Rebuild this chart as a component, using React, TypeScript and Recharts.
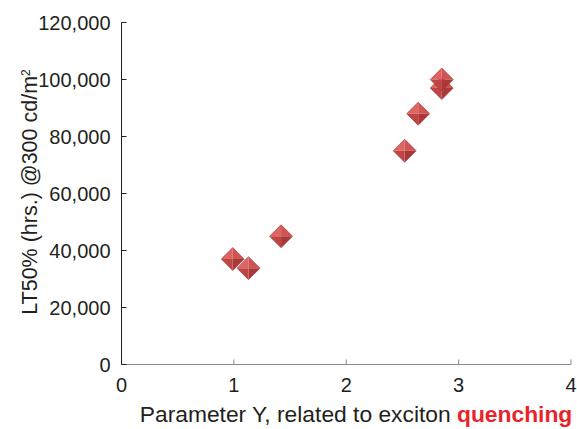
import { ScatterChart, Scatter, XAxis, YAxis } from "recharts";

const paramY = [0.99, 1.13, 1.42, 2.52, 2.64, 2.85, 2.85];
const lt50 = [37000, 33800, 45000, 75000, 88000, 97000, 100000];
const xTicks = [0, 1, 2, 3, 4];
const yTicks = [0, 20000, 40000, 60000, 80000, 100000, 120000];

const points = paramY.map((x, i) => ({ x, y: lt50[i] }));

const FONT = "Liberation Sans, Arial, sans-serif";

const Diamond = (props: any) => {
  const { cx, cy } = props;
  if (cx == null || cy == null) return null;
  const r = 11.5;
  const t = `${cx},${cy - r}`;
  const rr = `${cx + r},${cy}`;
  const b = `${cx},${cy + r}`;
  const l = `${cx - r},${cy}`;
  const c = `${cx},${cy}`;
  return (
    <g>
      <polygon points={`${l} ${t} ${c}`} fill="#df6464" />
      <polygon points={`${t} ${rr} ${c}`} fill="#d15454" />
      <polygon points={`${rr} ${b} ${c}`} fill="#ab3838" />
      <polygon points={`${b} ${l} ${c}`} fill="#bf4545" />
      <polygon
        points={`${l} ${t} ${rr} ${b}`}
        fill="none"
        stroke="#9c3030"
        strokeWidth={0.6}
      />
    </g>
  );
};

const XLabel = (props: any) => {
  const { viewBox } = props;
  return (
    <text
      x={356}
      y={viewBox.y + 57.5}
      textAnchor="middle"
      fontSize={22.8}
      fill="#231f20"
      fontFamily={FONT}
    >
      Parameter Y, related to exciton{" "}
      <tspan fill="#e8242a" fontWeight="bold">
        quenching
      </tspan>
    </text>
  );
};

const YLabel = () => (
  <text
    x={0}
    y={0}
    transform="translate(37,192) rotate(-90)"
    textAnchor="middle"
    fontSize={21.5}
    fill="#231f20"
    fontFamily={FONT}
  >
    LT50% (hrs.) @300 cd/m
    <tspan baselineShift="super" fontSize={12}>
      2
    </tspan>
  </text>
);

export default function App() {
  return (
    <div style={{ position: "absolute", left: 0, top: 0, background: "#fff" }}>
      <ScatterChart
        width={577}
        height={429}
        margin={{ top: 22.5, right: 6, left: 21.5, bottom: 14.5 }}
        style={{ fontFamily: FONT }}
      >
        <XAxis
          type="number"
          dataKey="x"
          domain={[0, 4]}
          ticks={xTicks}
          height={50}
          stroke="#8a8a8a"
          tickSize={-5}
          tickMargin={18}
          tick={{ fontSize: 20, fill: "#231f20" }}
          label={<XLabel />}
        />
        <YAxis
          type="number"
          dataKey="y"
          domain={[0, 120000]}
          ticks={yTicks}
          width={100}
          stroke="#231f20"
          tickSize={-5}
          tickMargin={16}
          tick={{ fontSize: 20, fill: "#231f20" }}
          tickFormatter={(v: number) => v.toLocaleString("en-US")}
          label={<YLabel />}
        />
        <Scatter data={points} shape={<Diamond />} isAnimationActive={false} />
      </ScatterChart>
    </div>
  );
}
